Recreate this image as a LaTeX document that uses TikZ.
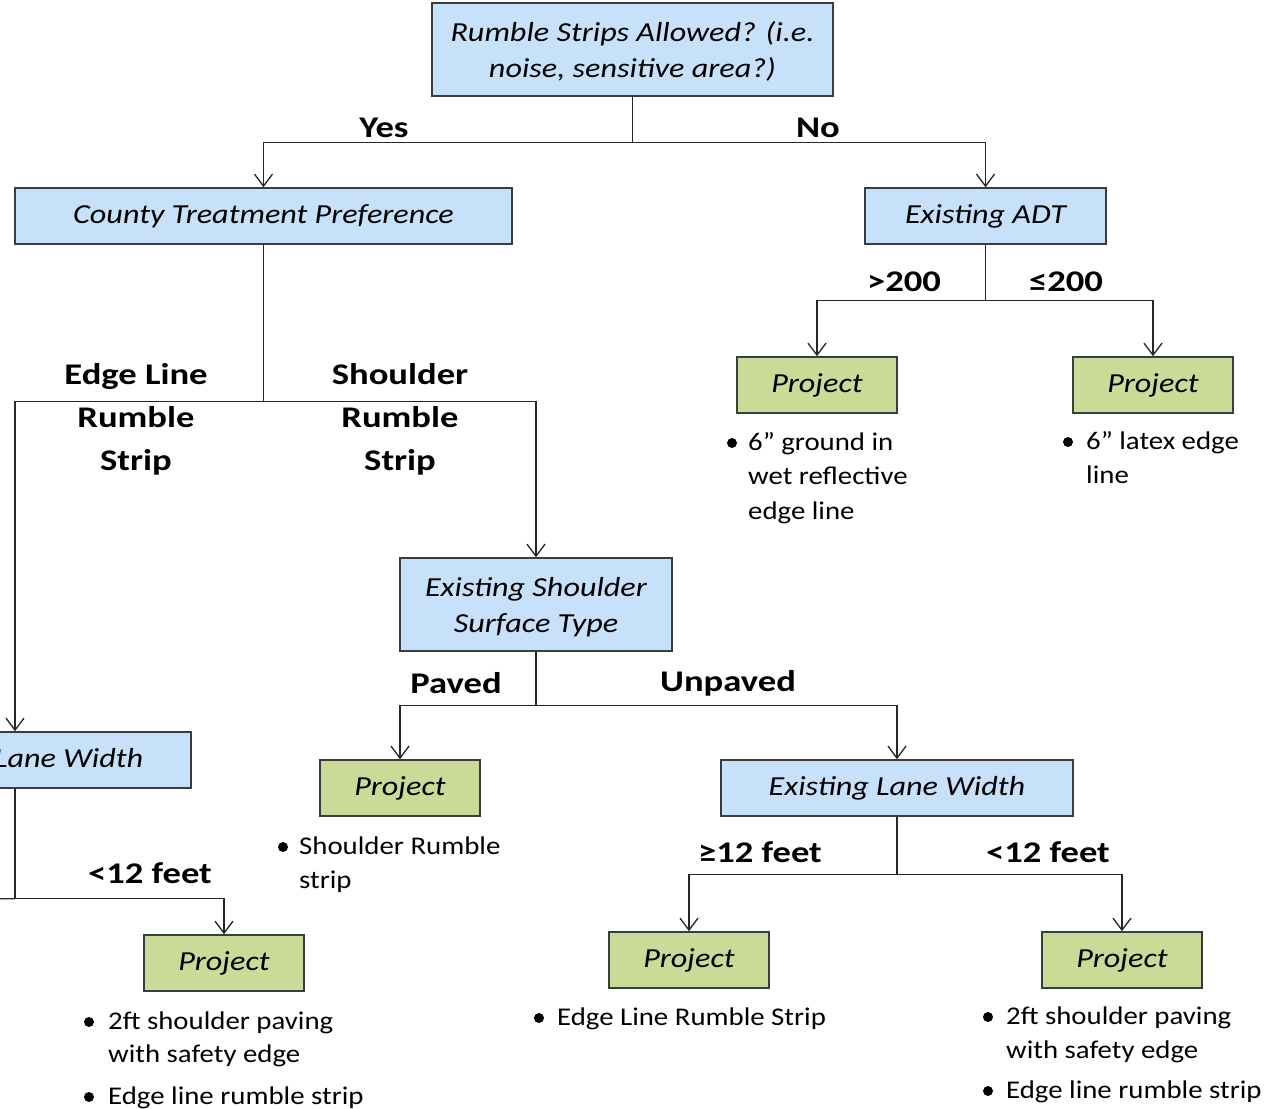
\documentclass[tikz,border=0pt]{standalone}
\usepackage{fontspec}
\setmainfont{Carlito}
\newfontfamily\boxfont[FakeStretch=1.17]{Carlito}
\newfontfamily\lblfont[FakeStretch=1.22]{Carlito}
\newfontfamily\bulfont[FakeStretch=1.13]{Carlito}
\usetikzlibrary{arrows.meta}
\definecolor{boxblue}{RGB}{200,225,250}
\definecolor{boxgreen}{RGB}{201,219,150}
\definecolor{edgegray}{RGB}{60,60,60}
\begin{document}
\begin{tikzpicture}[x=1pt,y=-1pt,
  decision/.style={draw=edgegray, line width=1.6pt, fill=boxblue, font=\boxfont\fontsize{27.5}{36}\selectfont\itshape, align=center, inner sep=0pt},
  oneline/.style={text height=1.6em, text depth=0.15em},
  proj/.style={draw=edgegray, line width=1.6pt, fill=boxgreen, minimum width=160pt, minimum height=56pt, font=\boxfont\fontsize{27.5}{30}\selectfont\itshape, inner sep=0pt, oneline},
  lbl/.style={font=\lblfont\fontsize{30}{43}\selectfont\bfseries, align=center, inner sep=0pt},
  bl/.style={font=\bulfont\fontsize{25.5}{34}\selectfont, anchor=west, inner sep=0pt, text height=0.55em, text depth=0pt, yshift=-6pt},
  dot/.style={circle, fill=black, inner sep=0pt, minimum size=10pt},
  conn/.style={line width=1.3pt, draw=black!85},
  arr/.style={conn, -{Straight Barb[length=12pt,width=18pt,line width=1.3pt]}}]
\useasboundingbox (0,0) rectangle (1278,1109);
\clip (0,0) rectangle (1278,1109);
\fill[white] (0,0) rectangle (1278,1109);

% boxes
\node[decision, minimum width=401pt, minimum height=93pt] (q1) at (632.5,49.5) {\rule{0pt}{0.9em}Rumble Strips Allowed? (i.e.\\noise, sensitive area?)};
\node[decision, oneline, minimum width=497pt, minimum height=56pt] (ctp) at (263.5,216) {County Treatment Preference};
\node[decision, oneline, minimum width=241pt, minimum height=56pt] (adt) at (985.5,216) {Existing ADT};
\node[proj] (p1) at (817,385) {Project};
\node[proj] (p2) at (1153,385) {Project};
\node[decision, minimum width=272pt, minimum height=93pt] (sst) at (536,604.5) {\rule{0pt}{0.9em}Existing Shoulder\\Surface Type};
\node[proj] (p3) at (400,788) {Project};
\node[decision, oneline, minimum width=352pt, minimum height=56pt] (elw) at (897,788) {Existing Lane Width};
\node[proj] (p4) at (689,960) {Project};
\node[proj] (p5) at (1122,960) {Project};
\node[decision, oneline, minimum width=352pt, minimum height=56pt] (lw) at (15,760) {Existing Lane Width};
\node[proj] (p6) at (224,963) {Project};

% connectors
\draw[conn] (q1.south) -- ++(0,46) coordinate (j1);
\draw[arr] (j1) -| (ctp.north);
\draw[arr] (j1) -| (adt.north);
\draw[conn] (adt.south) -- ++(0,56) coordinate (j2);
\draw[arr] (j2) -| (p1.north);
\draw[arr] (j2) -| (p2.north);
\draw[conn] (ctp.south) -- ++(0,157) coordinate (j3);
\draw[arr] (j3) -| (lw.north);
\draw[arr] (j3) -| (sst.north);
\draw[conn] (sst.south) -- ++(0,54) coordinate (j4);
\draw[arr] (j4) -| (p3.north);
\draw[arr] (j4) -| (elw.north);
\draw[conn] (elw.south) -- ++(0,58) coordinate (j5);
\draw[arr] (j5) -| (p4.north);
\draw[arr] (j5) -| (p5.north);
\draw[conn] (lw.south) -- ++(0,110) coordinate (j6);
\coordinate (lwend) at (-60,898);
\draw[conn] (lwend) -- (j6);
\draw[arr] (j6) -| (p6.north);

% branch labels
\node[lbl] (lyes) at (384,128) {Yes};
\node[lbl] (lno) at (818,128) {No};
\node[lbl] (lgt) at (904,282) {>200};
\node[lbl] (lle) at (1066,282) {≤200};
\node[lbl] (ledge) at (136,419) {Edge Line\\Rumble\\Strip};
\node[lbl] (lshd) at (400,419) {Shoulder\\Rumble\\Strip};
\node[lbl] (lpav) at (456,683) {Paved};
\node[lbl] (lunp) at (728,683) {Unpaved};
\node[lbl] (lge12) at (760,852) {≥12 feet};
\node[lbl] (llt12) at (1048,852) {<12 feet};
\node[lbl] (llt12b) at (150,873) {<12 feet};

% bullets
\node[dot] (d1) at (732,443) {};
\node[bl] (t1a) at (748,442) {6” ground in};
\node[bl] (t1b) at (748,476) {wet reflective};
\node[bl] (t1c) at (748,511) {edge line};
\node[dot] (d2) at (1068,442) {};
\node[bl] (t2a) at (1086,441) {6” latex edge};
\node[bl] (t2b) at (1086,475) {line};
\node[dot] (d3) at (283,847) {};
\node[bl] (t3a) at (299,846) {Shoulder Rumble};
\node[bl] (t3b) at (299,880) {strip};
\node[dot] (d4) at (539,1018) {};
\node[bl] (t4a) at (557,1017) {Edge Line Rumble Strip};
\node[dot] (d5) at (988,1017) {};
\node[bl] (t5a) at (1006,1016) {2ft shoulder paving};
\node[bl] (t5b) at (1006,1050) {with safety edge};
\node[dot] (d6) at (988,1091) {};
\node[bl] (t6a) at (1006,1090) {Edge line rumble strip};
\node[dot] (d7) at (89,1022) {};
\node[bl] (t7a) at (108,1021) {2ft shoulder paving};
\node[bl] (t7b) at (108,1054) {with safety edge};
\node[dot] (d8) at (89,1097) {};
\node[bl] (t8a) at (108,1096) {Edge line rumble strip};
\end{tikzpicture}
\end{document}
